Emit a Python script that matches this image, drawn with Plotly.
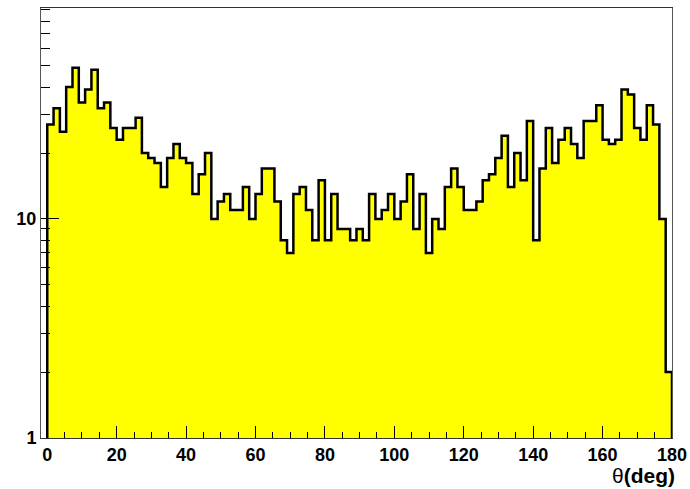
import plotly.graph_objects as go

# Counts per theta bin (99 equal bins between 0 and 180 deg)
counts = [
    27, 32, 25, 40, 49, 34, 39, 48, 32, 34,
    26, 23, 26, 26, 29, 20, 19, 18, 14, 19,
    22, 19, 18, 13, 16, 20, 10, 12, 13, 11,
    11, 14, 10, 13, 17, 17, 12, 8, 7, 13,
    14, 11, 8, 15, 8, 13, 9, 9, 8, 9,
    8, 13, 10, 11, 13, 10, 12, 16, 9, 13,
    7, 10, 9, 14, 17, 14, 11, 11, 12, 15,
    16, 19, 24, 14, 20, 15, 28, 8, 17, 26,
    18, 23, 26, 22, 19, 28, 28, 33, 23, 22,
    23, 39, 37, 26, 23, 33, 27, 10, 2,
]
theta_min, theta_max = 0.0, 180.0
x_ticks = [0, 20, 40, 60, 80, 100, 120, 140, 160, 180]
y_major = [1, 10]
y_minor = [2, 3, 4, 5, 6, 7, 8, 9, 20, 30, 40, 50, 60, 70, 80, 90]
y_floor = 1

n_bins = len(counts)
bin_w = (theta_max - theta_min) / n_bins
edges = [theta_min + i * bin_w for i in range(n_bins + 1)]

# Closed step outline: up from the floor, across every bin, back down to the floor
xs = [edges[0]] + edges[:-1] + [edges[-1], edges[-1]]
ys = [y_floor] + counts + [counts[-1], y_floor]

fig = go.Figure()
fig.add_trace(go.Scatter(
    x=xs, y=ys,
    mode="lines",
    line=dict(color="black", width=2.5, shape="hv"),
    fill="toself",
    fillcolor="#ffff00",
    hoverinfo="skip",
    showlegend=False,
))

tick_font = dict(family="Liberation Sans, Arial, sans-serif", size=18, color="black")

fig.update_layout(
    width=690, height=489,
    margin=dict(l=41, r=18, t=8, b=51),
    paper_bgcolor="white",
    plot_bgcolor="white",
    showlegend=False,
    xaxis=dict(
        range=[-1.8, 180],
        automargin=False,
        tickvals=x_ticks,
        ticktext=[f"<b>{v}</b>" for v in x_ticks],
        ticks="inside", ticklen=12, tickcolor="black", tickwidth=1,
        minor=dict(ticks="inside", ticklen=6, dtick=5, tick0=0, tickcolor="black", tickwidth=1),
        showgrid=False, zeroline=False,
        showline=True, mirror=True, linecolor="#333", linewidth=1,
        tickfont=tick_font,
    ),
    yaxis=dict(
        type="log",
        range=[0, 1.963],
        automargin=False,
        tickvals=y_major,
        ticktext=[f"<b>{v}</b>" for v in y_major],
        ticks="inside", ticklen=18, tickcolor="black", tickwidth=1,
        minor=dict(ticks="inside", ticklen=9, tickvals=y_minor, tickcolor="black", tickwidth=1),
        showgrid=False, zeroline=False,
        showline=True, mirror=True, linecolor="#555", linewidth=1,
        tickfont=tick_font,
    ),
    annotations=[dict(
        text="θ<b>(deg)</b>",
        x=1.006, xref="paper", xanchor="right",
        y=-0.117, yref="paper", yanchor="bottom",
        showarrow=False,
        borderpad=0,
        font=dict(family="Liberation Sans, Arial, sans-serif", size=21, color="black"),
    )],
)

fig.write_html("out.html")
